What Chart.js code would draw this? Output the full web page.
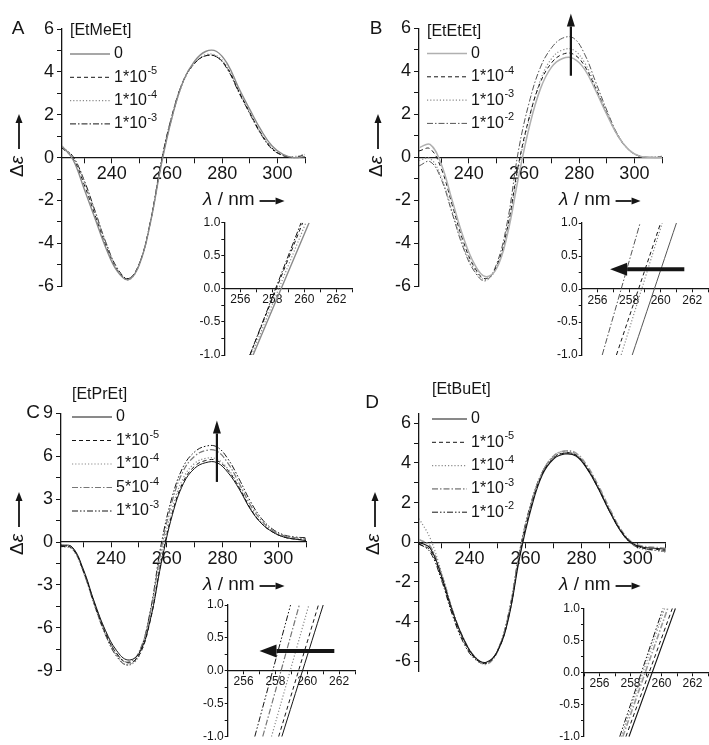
<!DOCTYPE html>
<html>
<head>
<meta charset="utf-8">
<script src="https://cdn.jsdelivr.net/npm/chart.js@4.4.1/dist/chart.umd.min.js"></script>
<style>
  html, body { margin: 0; padding: 0; background: #fff; }
  #fig { position: relative; width: 709px; height: 745px; overflow: hidden; background: #fff; }
  #fig canvas { position: absolute; }
</style>
</head>
<body>
<div id="fig"></div>
<script>
// 波长网格 (nm)
const lambda = [222,226,230,234,238,242,246,250,254,258,262,266,270,274,278,282,286,290,294,298,302,306,310];

// A: [EtMeEt]
const metConc = ['0', '1*10^-5', '1*10^-4', '1*10^-3'];
const met0 = [0.55,-0.1,-1.45,-2.85,-4.25,-5.3,-5.7,-5.0,-3.05,-0.3,1.95,3.6,4.5,4.95,4.95,4.35,3.25,2.25,1.3,0.55,0.15,0.0,0.05];
const met1 = [0.45,-0.05,-1.25,-2.7,-4.15,-5.25,-5.65,-4.95,-3.0,-0.2,2.0,3.6,4.4,4.75,4.7,4.15,3.1,2.1,1.15,0.45,0.1,0.0,0.05];
const met2 = [0.5,0.0,-1.1,-2.55,-4.0,-5.2,-5.7,-5.0,-3.05,-0.25,1.95,3.55,4.4,4.8,4.75,4.2,3.15,2.1,1.15,0.45,0.1,0.05,0.15];
const met3 = [0.5,0.05,-1.05,-2.5,-4.0,-5.15,-5.65,-4.95,-3.0,-0.15,2.05,3.6,4.4,4.75,4.7,4.1,3.05,2.05,1.1,0.4,0.1,0.0,0.15];

// B: [EtEtEt]
const etConc = ['0', '1*10^-4', '1*10^-3', '1*10^-2'];
const et0 = [0.45,0.6,-0.3,-2.0,-3.7,-4.95,-5.55,-5.2,-3.6,-0.95,1.45,3.2,4.2,4.6,4.6,4.1,3.1,2.0,1.0,0.35,0.05,0.0,0.0];
const et1 = [0.3,0.4,-0.5,-2.2,-3.9,-5.1,-5.65,-5.1,-3.3,-0.35,1.9,3.5,4.4,4.8,4.8,4.25,3.2,2.05,1.0,0.35,0.05,0.0,0.0];
const et2 = [-0.15,-0.05,-0.9,-2.5,-4.1,-5.2,-5.7,-5.15,-3.4,-0.5,1.85,3.6,4.6,5.0,5.0,4.4,3.3,2.1,1.05,0.35,0.05,0.0,0.0];
const et3 = [-0.4,-0.2,-1.0,-2.6,-4.2,-5.3,-5.75,-5.0,-3.0,0.3,2.6,4.2,5.1,5.55,5.55,4.8,3.5,2.2,1.05,0.35,0.05,0.0,0.05];

// C: [EtPrEt]
const prConc = ['0', '1*10^-5', '1*10^-4', '5*10^-4', '1*10^-3'];
const pr0 = [-0.2,-0.35,-1.9,-4.2,-6.2,-7.6,-8.25,-7.8,-5.5,-1.5,1.9,4.1,5.15,5.55,5.55,4.85,3.7,2.3,1.3,0.7,0.35,0.2,0.1];
const pr1 = [-0.3,-0.45,-2.0,-4.3,-6.4,-7.8,-8.45,-7.95,-5.55,-1.35,2.05,4.25,5.3,5.7,5.7,5.0,3.8,2.35,1.3,0.7,0.35,0.2,0.15];
const pr2 = [-0.35,-0.5,-2.1,-4.4,-6.5,-7.9,-8.6,-8.0,-5.4,-0.95,2.4,4.5,5.5,5.85,5.8,5.1,3.85,2.4,1.35,0.75,0.4,0.25,0.2];
const pr3 = [-0.3,-0.4,-2.0,-4.3,-6.3,-7.8,-8.4,-7.7,-5.0,-0.5,2.9,5.0,6.0,6.4,6.35,5.5,4.1,2.6,1.5,0.8,0.45,0.3,0.25];
const pr4 = [-0.25,-0.4,-2.05,-4.4,-6.5,-8.0,-8.6,-7.8,-4.9,-0.15,3.2,5.3,6.3,6.7,6.65,5.8,4.4,2.85,1.65,0.9,0.5,0.35,0.3];

// D: [EtBuEt]
const buConc = ['0', '1*10^-5', '1*10^-4', '1*10^-3', '1*10^-2'];
const bu0 = [0.0,-0.3,-1.7,-3.5,-4.9,-5.8,-6.05,-5.5,-3.8,-0.7,1.7,3.4,4.2,4.45,4.35,3.7,2.7,1.55,0.55,-0.05,-0.25,-0.3,-0.35];
const bu1 = [-0.1,-0.4,-1.8,-3.6,-5.0,-5.85,-6.1,-5.5,-3.75,-0.6,1.8,3.45,4.25,4.5,4.4,3.75,2.75,1.6,0.6,-0.05,-0.3,-0.35,-0.4];
const bu2 = [1.2,0.2,-1.5,-3.4,-4.9,-5.8,-6.1,-5.45,-3.6,-0.45,1.95,3.55,4.35,4.6,4.45,3.8,2.8,1.65,0.6,-0.1,-0.35,-0.4,-0.5];
const bu3 = [0.15,-0.2,-1.6,-3.45,-4.9,-5.8,-6.15,-5.5,-3.65,-0.5,1.9,3.5,4.35,4.6,4.5,3.85,2.85,1.7,0.65,0.0,-0.2,-0.25,-0.3];
const bu4 = [-0.05,-0.5,-1.9,-3.7,-5.1,-5.9,-6.1,-5.45,-3.55,-0.35,2.0,3.55,4.3,4.5,4.4,3.7,2.7,1.55,0.55,-0.1,-0.3,-0.4,-0.45];

// 插图: 各曲线在 Δε = -1 与 +1 处的波长
const insetDe = [-1, 1];
const metIns0 = [256.8, 260.3], metIns1 = [256.6, 259.9], metIns2 = [256.7, 260.1], metIns3 = [256.6, 259.8];
const etIns0 = [258.2, 261.0], etIns1 = [257.2, 260.0], etIns2 = [257.5, 260.1], etIns3 = [256.3, 258.7];
const prIns0 = [258.4, 261.0], prIns1 = [258.2, 260.7], prIns2 = [257.75, 260.1], prIns3 = [257.2, 259.5], prIns4 = [256.7, 258.95];
const buIns0 = [257.9, 260.9], buIns1 = [257.7, 260.7], buIns2 = [257.4, 260.2], buIns3 = [257.5, 260.4], buIns4 = [257.3, 260.1];

// 箭头 (数据坐标)
const etArrowLam = [277, 277], etArrowDe = [3.8, 6.7];
const prArrowLam = [278, 278], prArrowDe = [4.2, 8.5];
const etInsArrowLam = [261.5, 256.8], etInsArrowDe = [0.3, 0.3];
const prInsArrowLam = [261.7, 257.0], prInsArrowDe = [0.3, 0.3];

// 刻度
const xTicksMain = [230,240,250,260,270,280,290,300,310];
const yTicksAB = [-6,-5,-4,-3,-2,-1,0,1,2,3,4,5,6];
const yTicksC = [-9,-7.5,-6,-4.5,-3,-1.5,0,1.5,3,4.5,6,7.5,9];
const yTicksD = [-6,-5,-4,-3,-2,-1,0,1,2,3,4,5,6];
const xTicksInset = [255,256,257,258,259,260,261,262,263];
const yTicksInset = [-1,-0.75,-0.5,-0.25,0,0.25,0.5,0.75,1];

const FONT = '"Liberation Sans", Arial, sans-serif';
const ink = '#151515';

const SOLID = [], DASH = [4,3], DOT = [1.2,2], DASHDOT = [6,2,1.5,2], DASHDOTDOT = [6,2,1.5,2,1.5,2];

const fig = document.getElementById('fig');
const makeCanvas = (left, top, w, h) => {
  const cv = document.createElement('canvas');
  cv.width = w; cv.height = h;
  cv.style.left = left + 'px'; cv.style.top = top + 'px';
  cv.style.width = w + 'px'; cv.style.height = h + 'px';
  fig.appendChild(cv);
  return cv;
};

const series = (label, xs, ys, color, width, dash) => ({
  label,
  data: xs.map((x, i) => ({ x, y: ys[i] })),
  borderColor: color, borderWidth: width, borderDash: dash,
  pointRadius: 0, fill: false, tension: 0.4
});

const drawArrow = (ctx, x0, y0, x1, y1, w, hl, hw) => {
  const ang = Math.atan2(y1 - y0, x1 - x0);
  const bx = x1 - Math.cos(ang) * hl, by = y1 - Math.sin(ang) * hl;
  ctx.save();
  ctx.setLineDash([]);
  ctx.strokeStyle = ink; ctx.fillStyle = ink; ctx.lineWidth = w;
  ctx.beginPath(); ctx.moveTo(x0, y0); ctx.lineTo(bx, by); ctx.stroke();
  ctx.beginPath();
  ctx.moveTo(x1, y1);
  ctx.lineTo(bx + Math.sin(ang) * hw / 2, by - Math.cos(ang) * hw / 2);
  ctx.lineTo(bx - Math.sin(ang) * hw / 2, by + Math.cos(ang) * hw / 2);
  ctx.closePath(); ctx.fill();
  ctx.restore();
};

const drawSup = (ctx, s, x, y) => {
  const [base, sup] = s.split('^');
  ctx.font = `16px ${FONT}`;
  ctx.fillText(base, x, y);
  if (sup) {
    const w = ctx.measureText(base).width;
    ctx.font = `11px ${FONT}`;
    ctx.fillText(sup, x + w + 0.5, y - 6);
  }
};

// 标注: 面板字母, 图例, 轴标题, 箭头
const deco = {
  id: 'deco',
  afterDraw(chart) {
    const d = chart.canvas.deco;
    if (!d) return;
    const ctx = chart.ctx, sx = chart.scales.x, sy = chart.scales.y;
    ctx.save();
    ctx.fillStyle = ink; ctx.textBaseline = 'middle'; ctx.textAlign = 'left';

    if (d.letter) {
      ctx.font = `19px ${FONT}`; ctx.textAlign = 'center';
      ctx.fillText(d.letter[0], d.letter[1], d.letter[2]);
      ctx.textAlign = 'left';
    }
    if (d.legend) {
      const lg = d.legend;
      ctx.font = `16px ${FONT}`;
      ctx.fillText(lg.title, lg.x, lg.y0);
      chart.data.datasets.forEach((ds, i) => {
        const y = lg.y1 + i * lg.dy;
        ctx.save();
        ctx.strokeStyle = ds.borderColor; ctx.lineWidth = ds.borderWidth;
        ctx.setLineDash(ds.borderDash);
        ctx.beginPath(); ctx.moveTo(lg.x, y); ctx.lineTo(lg.x + lg.len, y); ctx.stroke();
        ctx.restore();
        drawSup(ctx, ds.label, lg.x + lg.len + 4, y);
      });
    }
    if (d.xlab) {
      const [x, y] = d.xlab;
      ctx.font = `italic 19px ${FONT}`;
      ctx.fillText('λ', x, y);
      let w = ctx.measureText('λ').width;
      ctx.font = `19px ${FONT}`;
      ctx.fillText(' / nm', x + w, y);
      w += ctx.measureText(' / nm').width;
      drawArrow(ctx, x + w + 5, y + 1, x + w + 30, y + 1, 1.8, 9, 7);
    }
    if (d.ylab) {
      const [x, y] = d.ylab;
      ctx.save();
      ctx.translate(x, y); ctx.rotate(-Math.PI / 2);
      ctx.font = `19px ${FONT}`;
      ctx.fillText('Δ', 0, 0);
      let w = ctx.measureText('Δ').width;
      ctx.font = `italic 19px ${FONT}`;
      ctx.fillText('ε', w, 0);
      w += ctx.measureText('ε').width;
      drawArrow(ctx, w + 7, 1, w + 42, 1, 1.8, 9, 7);
      ctx.restore();
    }
    (d.arrows || []).forEach(a => {
      drawArrow(ctx,
        sx.getPixelForValue(a.lam[0]), sy.getPixelForValue(a.de[0]),
        sx.getPixelForValue(a.lam[1]), sy.getPixelForValue(a.de[1]),
        a.w, a.hl, a.hw);
    });
    ctx.restore();
  }
};

const axisCommon = (size, tickLen) => ({
  border: { color: ink, width: 1.3 },
  grid: { drawOnChartArea: false, drawTicks: true, tickLength: tickLen, color: ink, tickColor: ink, tickWidth: 1 },
  ticks: { autoSkip: false, maxRotation: 0, color: ink, font: { family: FONT, size } }
});

const buildChart = (cv, datasets, cfg) => {
  const xa = axisCommon(cfg.xFont, cfg.tickLen);
  const ya = axisCommon(cfg.yFont, cfg.tickLen);
  return new Chart(cv, {
    type: 'line',
    data: { datasets },
    options: {
      responsive: false, animation: false, devicePixelRatio: 1,
      layout: { padding: cfg.pad },
      plugins: { legend: { display: false }, tooltip: { enabled: false } },
      scales: {
        x: Object.assign(xa, {
          type: 'linear', min: cfg.xmin, max: cfg.xmax, position: { y: 0 },
          afterBuildTicks: s => { s.ticks = cfg.xTicks.map(v => ({ value: v })); },
          ticks: Object.assign(xa.ticks, { padding: cfg.xPad, callback: cfg.xLabel })
        }),
        y: Object.assign(ya, {
          type: 'linear', min: cfg.ymin, max: cfg.ymax,
          afterBuildTicks: s => { s.ticks = cfg.yTicks.map(v => ({ value: v })); },
          afterFit: s => { s.width = cfg.yw; },
          ticks: Object.assign(ya.ticks, { padding: cfg.yPad, callback: cfg.yLabel })
        })
      }
    },
    plugins: [deco]
  });
};

const mainLabelX = v => (v % 20 === 0 ? String(v) : '');
const evenLabel = v => (v % 2 === 0 ? String(v) : '');
const thirdLabel = v => (v % 3 === 0 ? String(v) : '');
const halfLabel = v => (Math.abs(v * 2 - Math.round(v * 2)) < 1e-6 ? v.toFixed(1) : '');

const mainCfg = (pad, yw, ymin, ymax, yTicks, yLabel) => ({
  pad, yw, xmin: 222, xmax: 310, ymin, ymax, xTicks: xTicksMain, yTicks,
  xLabel: mainLabelX, yLabel, xFont: 18, yFont: 18, tickLen: 5, xPad: 1, yPad: 3
});
const insetCfg = (pad, yw) => ({
  pad, yw, xmin: 255, xmax: 263, ymin: -1, ymax: 1, xTicks: xTicksInset, yTicks: yTicksInset,
  xLabel: evenLabel, yLabel: halfLabel, xFont: 12, yFont: 12, tickLen: 3, xPad: 1, yPad: 1
});

// ---------- A ----------
const cvA = makeCanvas(0, 0, 354, 300);
cvA.deco = {
  letter: ['A', 18, 29],
  legend: { title: '[EtMeEt]', x: 70, y0: 31, y1: 54, dy: 23.3, len: 40 },
  xlab: [203, 200], ylab: [18, 177]
};
buildChart(cvA, [
  series(metConc[0], lambda, met0, '#8a8a8a', 1.4, SOLID),
  series(metConc[1], lambda, met1, ink, 1, DASH),
  series(metConc[2], lambda, met2, '#8a8a8a', 1.2, DOT),
  series(metConc[3], lambda, met3, ink, 1, DASHDOT)
], mainCfg({ left: 0, top: 29, right: 49, bottom: 13 }, 62, -6, 6, yTicksAB, evenLabel));

// ---------- B ----------
const cvB = makeCanvas(354, 0, 355, 300);
cvB.deco = {
  letter: ['B', 22, 29],
  legend: { title: '[EtEtEt]', x: 73, y0: 31.7, y1: 53.5, dy: 23.3, len: 40 },
  xlab: [205, 200], ylab: [23, 177],
  arrows: [{ lam: etArrowLam, de: etArrowDe, w: 2.2, hl: 13, hw: 8 }]
};
buildChart(cvB, [
  series(etConc[0], lambda, et0, '#b0b0b0', 1.5, SOLID),
  series(etConc[1], lambda, et1, ink, 1, DASH),
  series(etConc[2], lambda, et2, '#8a8a8a', 1.2, DOT),
  series(etConc[3], lambda, et3, '#555', 1, DASHDOT)
], mainCfg({ left: 0, top: 28.5, right: 47, bottom: 13 }, 65, -6, 6, yTicksAB, evenLabel));

// ---------- C ----------
const cvC = makeCanvas(0, 375, 354, 310);
cvC.deco = {
  letter: ['C', 33, 38],
  legend: { title: '[EtPrEt]', x: 72, y0: 20, y1: 42, dy: 23.5, len: 40 },
  xlab: [203, 210], ylab: [18, 180],
  arrows: [{ lam: prArrowLam, de: prArrowDe, w: 2.2, hl: 13, hw: 8 }]
};
buildChart(cvC, [
  series(prConc[0], lambda, pr0, ink, 1, SOLID),
  series(prConc[1], lambda, pr1, ink, 1, DASH),
  series(prConc[2], lambda, pr2, '#8a8a8a', 1.2, DOT),
  series(prConc[3], lambda, pr3, '#777', 1.2, DASHDOT),
  series(prConc[4], lambda, pr4, ink, 1, DASHDOTDOT)
], mainCfg({ left: 0, top: 38.3, right: 48, bottom: 14.3 }, 61, -9, 9, yTicksC, thirdLabel));

// ---------- D ----------
const cvD = makeCanvas(354, 375, 355, 310);
cvD.deco = {
  letter: ['D', 18, 28],
  legend: { title: '[EtBuEt]', x: 78, y0: 15, y1: 44, dy: 23.3, len: 35 },
  xlab: [205, 210], ylab: [20, 180]
};
buildChart(cvD, [
  series(buConc[0], lambda, bu0, ink, 1.1, SOLID),
  series(buConc[1], lambda, bu1, ink, 1, DASH),
  series(buConc[2], lambda, bu2, '#8a8a8a', 1.2, DOT),
  series(buConc[3], lambda, bu3, '#9a9a9a', 1.6, DASHDOT),
  series(buConc[4], lambda, bu4, ink, 1, DASHDOTDOT)
], mainCfg({ left: 0, top: 38.4, right: 43.3, bottom: 12.8 }, 65, -6.5, 6.5, yTicksD, evenLabel));

// ---------- 插图 ----------
const cvAi = makeCanvas(190, 205, 164, 160);
buildChart(cvAi, [
  series(metConc[0], metIns0, insetDe, '#8a8a8a', 1.4, SOLID),
  series(metConc[1], metIns1, insetDe, ink, 1, DASH),
  series(metConc[2], metIns2, insetDe, '#8a8a8a', 1.2, DOT),
  series(metConc[3], metIns3, insetDe, ink, 1, DASHDOT)
], insetCfg({ left: 0, top: 17.7, right: 1.7, bottom: 10 }, 34.3));

const cvBi = makeCanvas(545, 205, 164, 160);
cvBi.deco = { arrows: [{ lam: etInsArrowLam, de: etInsArrowDe, w: 4, hl: 17, hw: 13 }] };
buildChart(cvBi, [
  series(etConc[0], etIns0, insetDe, '#555', 1, SOLID),
  series(etConc[1], etIns1, insetDe, ink, 1, DASH),
  series(etConc[2], etIns2, insetDe, '#8a8a8a', 1.2, DOT),
  series(etConc[3], etIns3, insetDe, '#555', 1, DASHDOT)
], insetCfg({ left: 0, top: 18, right: 0, bottom: 10 }, 36.7));

const cvCi = makeCanvas(190, 590, 166, 155);
cvCi.deco = { arrows: [{ lam: prInsArrowLam, de: prInsArrowDe, w: 4, hl: 17, hw: 13 }] };
buildChart(cvCi, [
  series(prConc[0], prIns0, insetDe, ink, 1, SOLID),
  series(prConc[1], prIns1, insetDe, ink, 1, DASH),
  series(prConc[2], prIns2, insetDe, '#8a8a8a', 1.2, DOT),
  series(prConc[3], prIns3, insetDe, '#777', 1.2, DASHDOT),
  series(prConc[4], prIns4, insetDe, ink, 1, DASHDOTDOT)
], insetCfg({ left: 0, top: 15, right: 0.3, bottom: 8.3 }, 37.7));

const cvDi = makeCanvas(548, 593, 161, 152);
buildChart(cvDi, [
  series(buConc[0], buIns0, insetDe, ink, 1.1, SOLID),
  series(buConc[1], buIns1, insetDe, ink, 1, DASH),
  series(buConc[2], buIns2, insetDe, '#8a8a8a', 1.2, DOT),
  series(buConc[3], buIns3, insetDe, '#9a9a9a', 1.6, DASHDOT),
  series(buConc[4], buIns4, insetDe, ink, 1, DASHDOTDOT)
], insetCfg({ left: 0, top: 15.3, right: 0, bottom: 7 }, 36));
</script>
</body>
</html>
